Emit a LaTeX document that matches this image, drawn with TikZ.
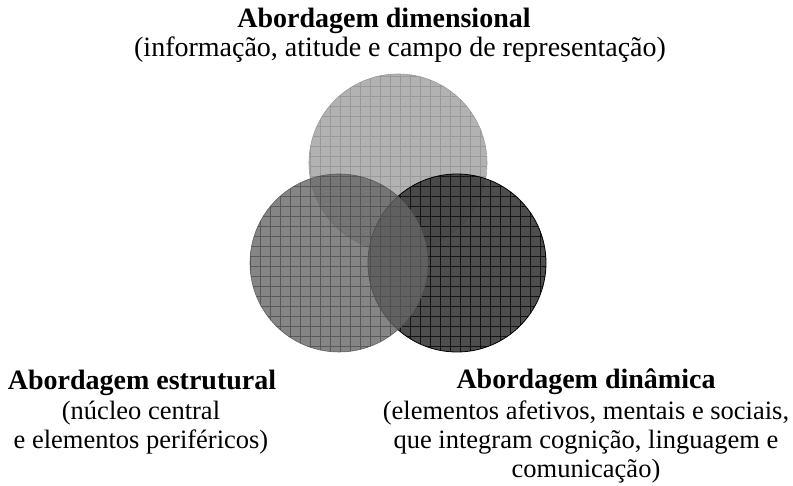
\documentclass[tikz,border=0pt]{standalone}
\usepackage{fontspec}
\setmainfont{Liberation Serif}
\usepackage{xcolor}
\usetikzlibrary{positioning,calc}

\definecolor{topfill}{HTML}{B2B2B2}
\definecolor{topline}{HTML}{999999}
\definecolor{leftfill}{HTML}{666666}
\definecolor{leftline}{HTML}{4F4F4F}
\definecolor{rightfill}{HTML}{444444}
\definecolor{rightline}{HTML}{111111}

\begin{document}
\begin{tikzpicture}[x=1pt,y=1pt,
  heading/.style={font=\fontsize{28}{30}\selectfont\bfseries, inner sep=0pt, anchor=base},
  detail/.style={font=\fontsize{26.5}{29.2}\selectfont, inner sep=0pt, anchor=base, align=center}]
\useasboundingbox (0,0) rectangle (793,486);

% Centres
\coordinate (dim) at (398,323);
\coordinate (est) at (339,223);
\coordinate (din) at (457,223);

% Dimensional circle
\begin{scope}
\clip (dim) circle (89);
\fill[topfill] (dim) circle (89);
\draw[topline, line width=0.7pt, step=10pt] ($(dim)+(-95,-95)$) grid ($(dim)+(95,95)$);
\end{scope}
\draw[topline, line width=0.6pt] (dim) circle (89);

% Dynamic circle
\begin{scope}[opacity=0.95]
\clip (din) circle (89);
\fill[rightfill] (din) circle (89);
\draw[rightline, line width=0.7pt, step=10pt] ($(din)+(-95,-95)$) grid ($(din)+(95,95)$);
\end{scope}
\draw[black, line width=0.8pt] (din) circle (89);

% Structural circle
\begin{scope}[opacity=0.8]
\clip (est) circle (89);
\fill[leftfill] (est) circle (89);
\draw[leftline, line width=0.7pt, step=10pt] ($(est)+(-95,-95)$) grid ($(est)+(95,95)$);
\end{scope}
\draw[leftline, opacity=0.8, line width=0.6pt] (est) circle (89);

% Labels (multi-line nodes sit on their last baseline)
\node[heading] (dimtitle) at (384,458) {Abordagem dimensional};
\node[detail, font=\fontsize{28}{30}\selectfont] (dimtext) at (400,429) {(informação, atitude e campo de representação)};

\node[heading] (esttitle) at (142,96) {Abordagem estrutural};
\node[detail] (esttext) at (141,37) {(núcleo central\\e elementos periféricos)};

\node[heading] (dintitle) at (586,97) {Abordagem dinâmica};
\node[detail] (dintext) at (586,8) {(elementos afetivos, mentais e sociais,\\que integram cognição, linguagem e\\comunicação)};
\end{tikzpicture}
\end{document}
